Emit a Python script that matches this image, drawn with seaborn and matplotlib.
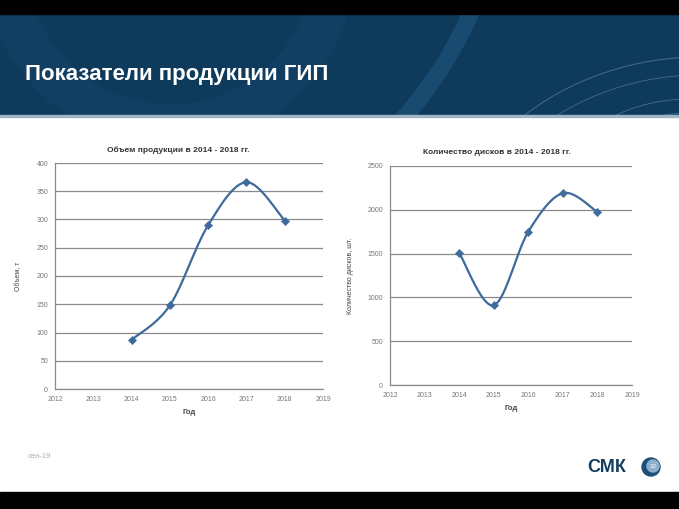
import numpy as np
import pandas as pd
import matplotlib
matplotlib.use("Agg")
import matplotlib.pyplot as plt
import seaborn as sns
from matplotlib.patches import Rectangle, Circle, Arc

years = [2014, 2015, 2016, 2017, 2018]
volume_t = [87, 148, 290, 366, 298]
disks_pcs = [1510, 910, 1750, 2190, 1975]

left_title = "Объем продукции в 2014 - 2018 гг."
right_title = "Количество дисков в 2014 - 2018 гг."
left_ylabel = "Объем, т"
right_ylabel = "Количество дисков, шт."
xlabel = "Год"
x_ticks = [2012, 2013, 2014, 2015, 2016, 2017, 2018, 2019]
left_yticks = [0, 50, 100, 150, 200, 250, 300, 350, 400]
right_yticks = [0, 500, 1000, 1500, 2000, 2500]
header_text = "Показатели продукции ГИП"
footer_text = "сен-19"
logo_text = "СМК"

sns.set_theme(style="white")
plt.rcParams['font.family'] = ['Liberation Sans', 'DejaVu Sans']

LINE = "#3f6a9c"


def smooth(xs, ys, n=40):
    # Excel-like smoothed line (Bezier through the data points)
    xs = np.asarray(xs, float); ys = np.asarray(ys, float)
    px = np.concatenate([[xs[0]], xs, [xs[-1]]])
    py = np.concatenate([[ys[0]], ys, [ys[-1]]])
    ox, oy = [], []
    t = np.linspace(0, 1, n)
    for i in range(1, len(px) - 2):
        p0 = np.array([px[i], py[i]]); p3 = np.array([px[i + 1], py[i + 1]])
        c1 = p0 + (np.array([px[i + 1], py[i + 1]]) - np.array([px[i - 1], py[i - 1]])) / 6
        c2 = p3 - (np.array([px[i + 2], py[i + 2]]) - np.array([px[i], py[i]])) / 6
        b = ((1 - t) ** 3)[:, None] * p0 + (3 * (1 - t) ** 2 * t)[:, None] * c1 \
            + (3 * (1 - t) * t ** 2)[:, None] * c2 + (t ** 3)[:, None] * p3
        ox.extend(b[:, 0]); oy.extend(b[:, 1])
    return np.array(ox), np.array(oy)


fig = plt.figure(figsize=(6.79, 5.09), dpi=100)
fig.patch.set_facecolor("white")

bg = fig.add_axes([0, 0, 1, 1], zorder=-10)
bg.set_xlim(0, 679); bg.set_ylim(509, 0); bg.axis("off")

# header band
header = Rectangle((0, 14), 679, 102, color="#0e3a5c")
bg.add_patch(header)
clip = Rectangle((0, 14), 679, 101, transform=bg.transData)
deco = [Circle((170, -40), 165, fill=False, lw=30, color="#134165", alpha=0.7)]
for r, lw in [(270, 0.7), (250, 0.6), (190, 0.6), (172, 0.6)]:
    deco.append(Arc((700, 300), 2 * r, 2 * r * 0.9, theta1=185, theta2=275,
                    color="#5f88aa", lw=lw, alpha=0.65))
for r in [130, 110]:
    deco.append(Arc((690, 190), 2 * r, 2 * r * 0.7, theta1=185, theta2=275,
                    color="#5f88aa", lw=0.6, alpha=0.65))
deco.append(Arc((100, -150), 810, 810, theta1=12, theta2=50, color="#1e5278", lw=12, alpha=0.7))
for p in deco:
    bg.add_patch(p)
    p.set_clip_path(clip)
bg.add_patch(Rectangle((0, 0), 679, 14, color="black"))
bg.add_patch(Rectangle((0, 115), 679, 2, color="#9fb4c4"))
bg.add_patch(Rectangle((0, 492), 679, 17, color="black"))

bg.text(25, 80, header_text, color="white", fontsize=16, fontweight="bold", va="baseline")
bg.text(28, 457, footer_text, color="#aaaaaa", fontsize=5.5, va="center")
bg.text(587, 468, logo_text, color="#143c5e", fontsize=13, fontweight="bold", va="center")
bg.add_patch(Circle((651, 467), 9, color="#1d4f78"))
bg.add_patch(Circle((653, 466), 6, color="#8fb0cc"))
bg.text(653, 466, "12", color="white", fontsize=4.5, ha="center", va="center")


def draw(ax, y, yticks, title, ylabel, title_x, title_y, xl_y):
    xs, ys = smooth(years, y)
    ax.plot(xs, ys, color=LINE, lw=1.6, zorder=3)
    df = pd.DataFrame({"year": years, "value": y})
    sns.scatterplot(data=df, x="year", y="value", ax=ax, marker="D", s=18,
                    color=LINE, edgecolor=LINE, zorder=4)
    ax.set_xlim(x_ticks[0], x_ticks[-1])
    ax.set_ylim(yticks[0], yticks[-1])
    ax.set_xticks(x_ticks)
    ax.set_yticks(yticks)
    ax.tick_params(labelsize=5, colors="#777777", length=0, pad=5)
    ax.yaxis.grid(True, color="#8a8a8a", lw=0.9)
    ax.xaxis.grid(False)
    ax.patch.set_alpha(0)
    for s in ["top", "right"]:
        ax.spines[s].set_visible(False)
    for s in ["left", "bottom"]:
        ax.spines[s].set_color("#8a8a8a")
        ax.spines[s].set_linewidth(0.9)
    ax.set_xlabel("")
    ax.set_ylabel(ylabel, fontsize=5, color="#444444", labelpad=10)
    fig.text(title_x / 679, 1 - title_y / 509, title, ha="center", va="center",
             fontsize=6, fontweight="bold", color="#333333")
    bbox = ax.get_position()
    fig.text((bbox.x0 + bbox.x1) / 2, 1 - xl_y / 509, xlabel, ha="center", va="center",
             fontsize=5.5, fontweight="bold", color="#444444")


ax1 = fig.add_axes([55 / 679, 1 - 389 / 509, (323 - 55) / 679, (389 - 163) / 509])
draw(ax1, volume_t, left_yticks, left_title, left_ylabel, 178, 150, 413)

ax2 = fig.add_axes([390 / 679, 1 - 385 / 509, (632 - 390) / 679, (385 - 166) / 509])
draw(ax2, disks_pcs, right_yticks, right_title, right_ylabel, 497, 153, 408)

fig.savefig("out.png", dpi=100, facecolor="white")
